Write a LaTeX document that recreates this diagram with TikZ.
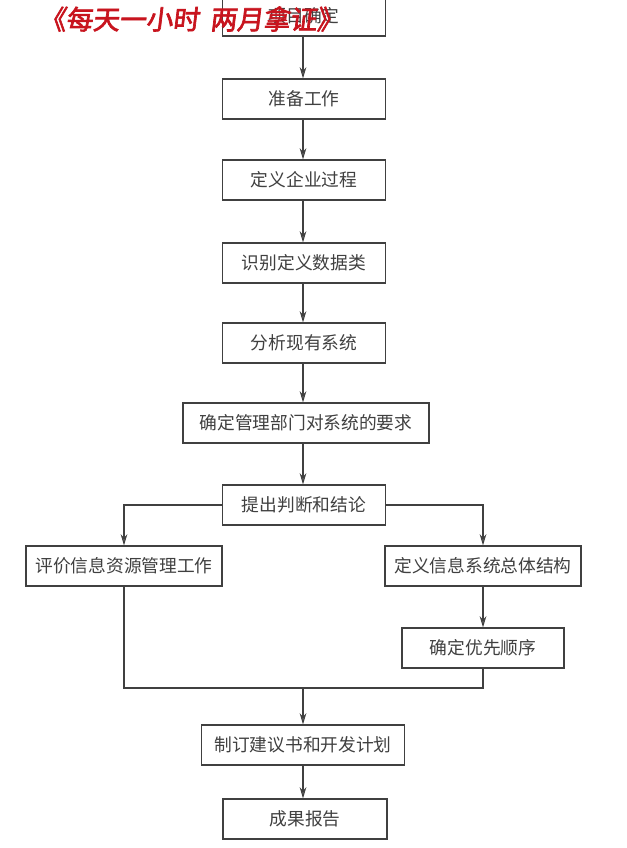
\documentclass[tikz,border=0pt]{standalone}
\usepackage{fontspec}
\setmainfont{Noto Sans CJK SC}
\newfontfamily\wmfont{Noto Sans CJK SC}[FakeBold=2.5,FakeSlant=0.12]
\usetikzlibrary{arrows.meta}
\definecolor{ink}{HTML}{404040}
\definecolor{wmred}{HTML}{C8141E}
\tikzset{
  box/.style={draw=ink, line width=0.8pt, text=ink, font=\fontsize{13.3}{13.3}\selectfont,
    inner sep=0pt, minimum width=#1*0.75pt, minimum height=40*0.75pt},
  box/.default=163,
  flow/.style={draw=ink, line width=0.8pt, -{Stealth[length=8.5pt,width=5pt,fill=ink!70]}},
  plain/.style={draw=ink, line width=0.8pt}
}
\begin{document}
\begin{tikzpicture}[x=0.75pt,y=-0.75pt]
\useasboundingbox (0,0) rectangle (626,848);
\clip (0,0) rectangle (626,848);
\fill[white] (0,0) rectangle (626,848);
\node[box] (b1) at (304,16) {项目确定};
\node[box] (b2) at (304,99) {准备工作};
\node[box] (b3) at (304,180) {定义企业过程};
\node[box] (b4) at (304,263) {识别定义数据类};
\node[box] (b5) at (304,343) {分析现有系统};
\node[box=246] (b6) at (306,423) {确定管理部门对系统的要求};
\node[box] (b7) at (304,505) {提出判断和结论};
\node[box=196] (l1) at (124,566) {评价信息资源管理工作};
\node[box=196] (r1) at (483,566) {定义信息系统总体结构};
\node[box=162] (r2) at (483,648) {确定优先顺序};
\node[box=203] (b8) at (303,745) {制订建议书和开发计划};
\node[box=164] (b9) at (305,819) {成果报告};
\coordinate (m) at (303,688);
\draw[flow] (b1.south -| 303,0) -- (b2.north -| 303,0);
\draw[flow] (b2.south -| 303,0) -- (b3.north -| 303,0);
\draw[flow] (b3.south -| 303,0) -- (b4.north -| 303,0);
\draw[flow] (b4.south -| 303,0) -- (b5.north -| 303,0);
\draw[flow] (b5.south -| 303,0) -- (b6.north -| 303,0);
\draw[flow] (b6.south -| 303,0) -- (b7.north -| 303,0);
\draw[flow] (b7.west) -| (l1.north);
\draw[flow] (b7.east) -| (r1.north);
\draw[flow] (r1.south) -- (r2.north);
\draw[plain] (l1.south) |- (m) -| (r2.south);
\draw[flow] (m) -- (b8.north -| m);
\draw[flow] (b8.south -| m) -- (b9.north -| m);
\node[text=wmred, font=\wmfont\fontsize{20}{20}\selectfont, anchor=west, inner sep=0pt] (wm) at (39,19) {《每天一小时\hspace{0.4em}两月拿证》};
\end{tikzpicture}
\end{document}
